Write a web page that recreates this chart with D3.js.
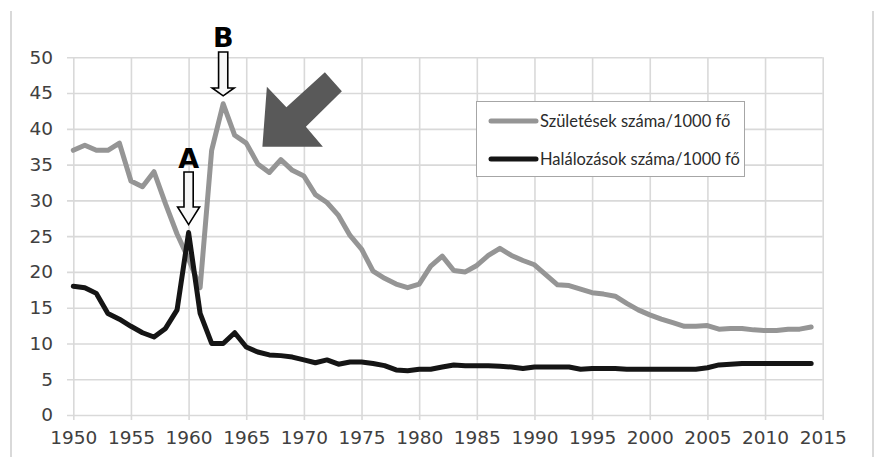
<!DOCTYPE html>
<html>
<head>
<meta charset="utf-8">
<script src="https://cdn.jsdelivr.net/npm/d3@7"></script>
<style>
  html, body { margin: 0; padding: 0; background: #fff; }
  svg { display: block; }
</style>
</head>
<body>
<svg id="chart" width="876" height="457"></svg>
<script>
// Years covered by both series
const years = d3.range(1950, 2015);

// Births per 1000 inhabitants
const births = [
  37.0, 37.7, 37.0, 37.0, 38.0, 32.7, 31.9, 34.0, 29.5, 25.3,
  21.8, 17.8, 37.0, 43.5, 39.1, 38.0, 35.1, 33.9, 35.7, 34.2,
  33.4, 30.8, 29.7, 27.9, 25.1, 23.2, 20.1, 19.1, 18.3, 17.8,
  18.3, 20.8, 22.2, 20.2, 20.0, 20.9, 22.3, 23.3, 22.3, 21.6,
  21.0, 19.6, 18.2, 18.1, 17.6, 17.1, 16.9, 16.6, 15.6, 14.7,
  14.0, 13.4, 12.9, 12.4, 12.4, 12.5, 12.0, 12.1, 12.1, 11.9,
  11.8, 11.8, 12.0, 12.0, 12.3
];

// Deaths per 1000 inhabitants
const deaths = [
  18.0, 17.8, 17.0, 14.2, 13.4, 12.4, 11.5, 10.9, 12.1, 14.7,
  25.5, 14.2, 10.0, 10.0, 11.5, 9.5, 8.8, 8.4, 8.3, 8.1,
  7.7, 7.3, 7.7, 7.1, 7.4, 7.4, 7.2, 6.9, 6.3, 6.2,
  6.4, 6.4, 6.7, 7.0, 6.9, 6.9, 6.9, 6.8, 6.7, 6.5,
  6.7, 6.7, 6.7, 6.7, 6.4, 6.5, 6.5, 6.5, 6.4, 6.4,
  6.4, 6.4, 6.4, 6.4, 6.4, 6.6, 7.0, 7.1, 7.2, 7.2,
  7.2, 7.2, 7.2, 7.2, 7.2
];

const seriesNames = ["Születések száma/1000 fő", "Halálozások száma/1000 fő"];
const xTicks = d3.range(1950, 2016, 5);
const yTicks = d3.range(0, 51, 5);

// Marked events: A = death-rate spike, B = birth-rate peak
const markA = { label: "A", year: 1960, value: 25.5 };
const markB = { label: "B", year: 1963, value: 43.5 };

const svg = d3.select("#chart");
const W = 876, H = 457;

const x = d3.scaleLinear().domain([1950, 2015]).range([73.3, 822.7]);
const y = d3.scaleLinear().domain([0, 50]).range([415, 57.3]);

const gridColor = "#d9d9d9";
const labelColor = "#404040";
const tickFont = "'DejaVu Sans', sans-serif";

// Side frame lines
[11, 873].forEach(fx => {
  svg.append("line")
    .attr("x1", fx).attr("x2", fx).attr("y1", 11).attr("y2", H)
    .attr("stroke", "#d9d9d9").attr("stroke-width", 2);
});

// Y axis with horizontal gridlines
const yAxis = svg.append("g")
  .attr("transform", "translate(67,0)")
  .call(d3.axisLeft(y).tickValues(yTicks)
    .tickSize(-(x.range()[1] - 67)).tickPadding(14)
    .tickFormat(d3.format("d")));
yAxis.select(".domain").remove();
yAxis.selectAll(".tick line").attr("stroke", gridColor).attr("stroke-width", 1.6);
yAxis.selectAll(".tick text")
  .attr("fill", labelColor).style("font-family", tickFont).style("font-size", "18.5px");

// X axis with vertical gridlines
const xAxis = svg.append("g")
  .attr("transform", "translate(0,420)")
  .call(d3.axisBottom(x).tickValues(xTicks)
    .tickSize(-(420 - y(50))).tickPadding(11)
    .tickFormat(d3.format("d")));
xAxis.select(".domain").remove();
xAxis.selectAll(".tick line").attr("stroke", gridColor).attr("stroke-width", 1.6);
xAxis.selectAll(".tick text")
  .attr("fill", labelColor).style("font-family", tickFont).style("font-size", "18.5px");

// Series lines
const line = d3.line()
  .x((d, i) => x(years[i]))
  .y(d => y(d));

svg.append("path").datum(births)
  .attr("d", line)
  .attr("fill", "none").attr("stroke", "#959595")
  .attr("stroke-width", 5).attr("stroke-linejoin", "round").attr("stroke-linecap", "round");

svg.append("path").datum(deaths)
  .attr("d", line)
  .attr("fill", "none").attr("stroke", "#151515")
  .attr("stroke-width", 5).attr("stroke-linejoin", "round").attr("stroke-linecap", "round");

// Legend
const legend = svg.append("g");
legend.append("rect")
  .attr("x", 476.5).attr("y", 101.5).attr("width", 268).attr("height", 75)
  .attr("fill", "#fff").attr("stroke", "#a6a6a6").attr("stroke-width", 1);
const legendColors = ["#959595", "#151515"];
seriesNames.forEach((name, i) => {
  const ly = 121 + i * 38;
  legend.append("line")
    .attr("x1", 491).attr("x2", 536).attr("y1", ly).attr("y2", ly)
    .attr("stroke", legendColors[i]).attr("stroke-width", 5).attr("stroke-linecap", "round");
  legend.append("text")
    .attr("x", 540).attr("y", ly).attr("dy", "0.35em")
    .attr("fill", "#2b2b2b")
    .style("font-family", "Lato, 'Open Sans', sans-serif").style("font-size", "16.5px")
    .text(name);
});

// Hollow down arrows with letter labels above
function hollowArrow(cx, top, shaftEnd, tip, shaftHalf, headHalf) {
  const p = [
    [cx - shaftHalf, top], [cx + shaftHalf, top], [cx + shaftHalf, shaftEnd],
    [cx + headHalf, shaftEnd], [cx, tip], [cx - headHalf, shaftEnd],
    [cx - shaftHalf, shaftEnd]
  ];
  svg.append("path")
    .attr("d", "M" + p.map(q => q.join(",")).join("L") + "Z")
    .attr("fill", "#f7f7f7").attr("stroke", "#000").attr("stroke-width", 1.6)
    .attr("stroke-linejoin", "miter");
}

function marker(m, letterBase, top, shaftEnd, tip) {
  const cx = x(m.year);
  svg.append("text")
    .attr("x", cx).attr("y", letterBase)
    .attr("text-anchor", "middle")
    .style("font-family", "'DejaVu Sans', sans-serif")
    .style("font-weight", "bold").style("font-size", "27px")
    .attr("fill", "#000")
    .text(m.label);
  hollowArrow(cx, top, shaftEnd, tip, 4.6, 11);
}

marker(markA, 168, 172, 207, y(markA.value) - 8);
marker(markB, 47, 52, 88, y(markB.value) - 8);

// Large solid arrow pointing at the post-peak decline
const ax = x(1966.4), ay = y(37.5);
const bigArrow = [
  [0, 0], [4.5, -60], [24, -39.5], [62.5, -74.5], [79.5, -55.5], [43.5, -20], [60.5, 0]
];
svg.append("path")
  .attr("d", "M" + bigArrow.map(p => [ax + p[0], ay + p[1]].join(",")).join("L") + "Z")
  .attr("fill", "#595959");
</script>
</body>
</html>
